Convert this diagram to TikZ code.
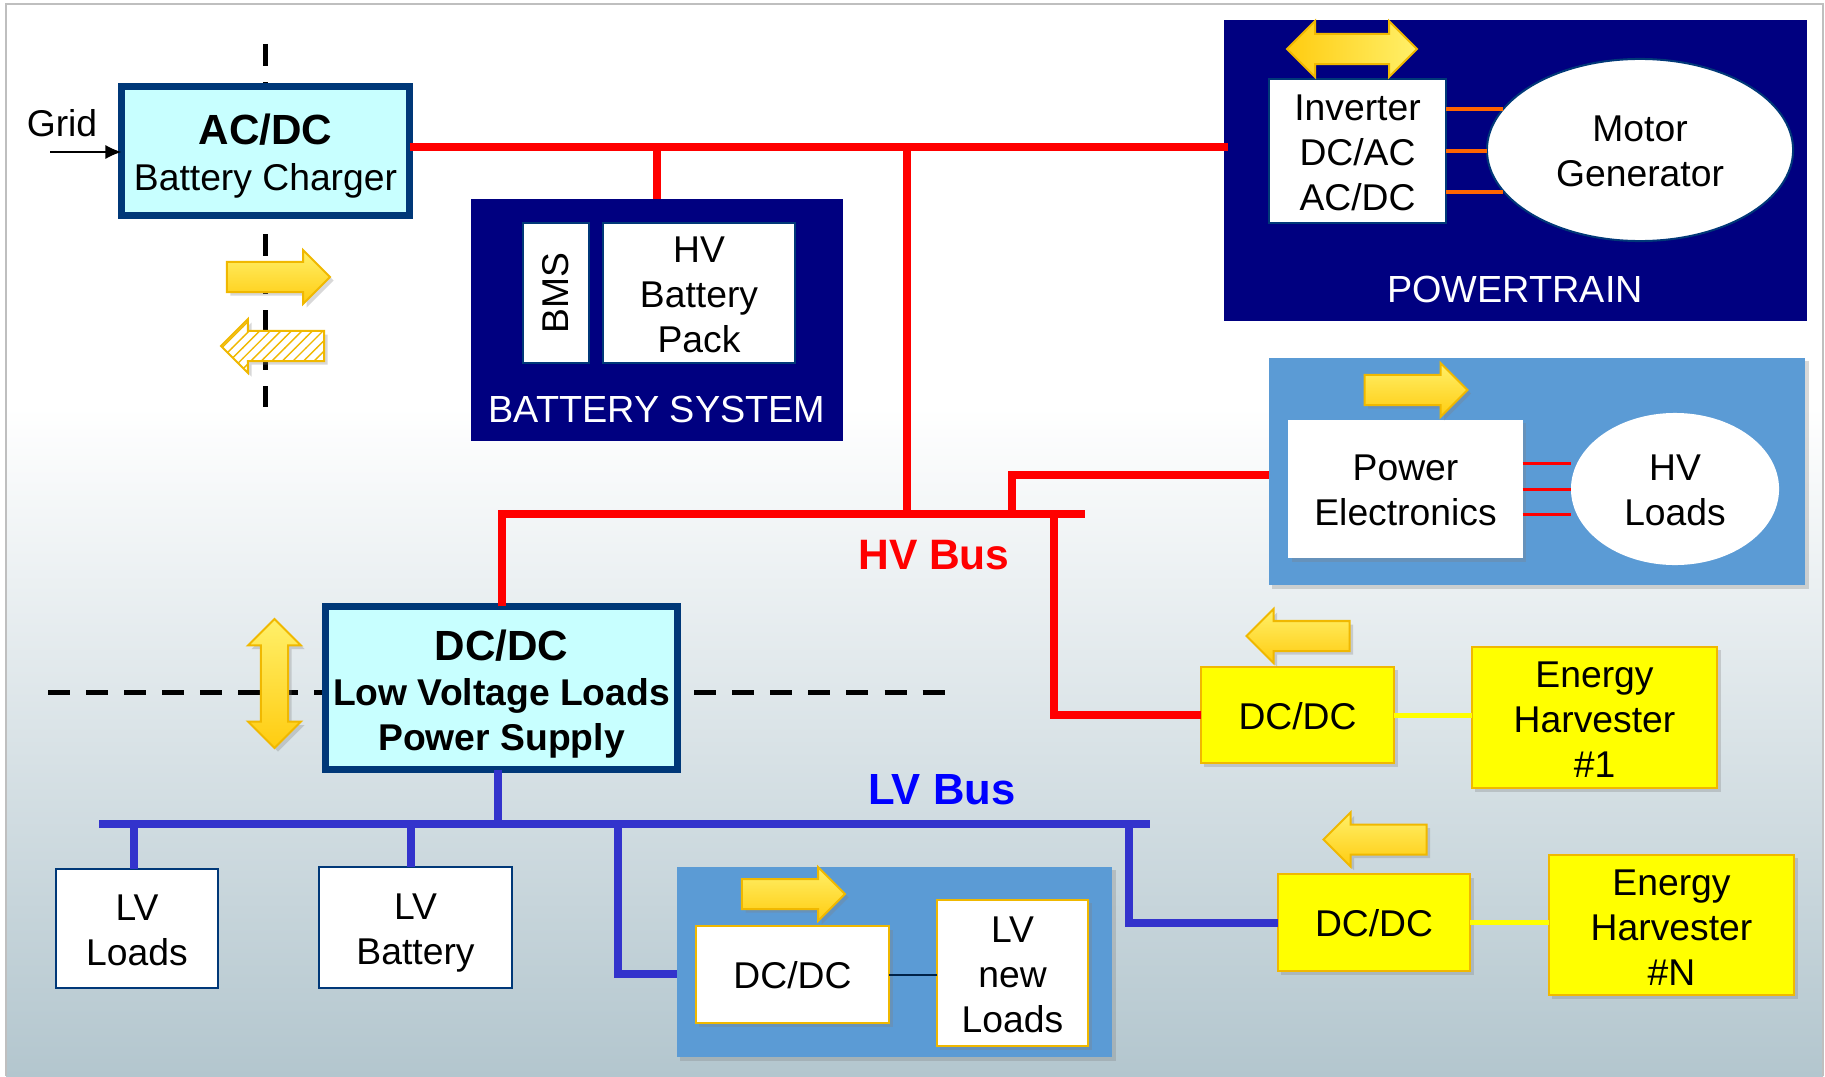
\documentclass[tikz,border=0pt]{standalone}
\usepackage{fontspec}
\setmainfont{Liberation Sans}
\usetikzlibrary{arrows.meta,shapes.geometric,shapes.arrows,shadows,patterns}
\definecolor{navybg}{RGB}{0,0,128}
\definecolor{panelblue}{RGB}{91,155,213}
\definecolor{cyanbox}{RGB}{200,255,255}
\definecolor{boxborder}{RGB}{0,56,120}
\definecolor{goldline}{RGB}{240,184,0}
\definecolor{goldlight}{RGB}{255,240,106}
\definecolor{golddark}{RGB}{255,204,16}
\definecolor{redbus}{RGB}{255,0,0}
\definecolor{bluebus}{RGB}{51,51,204}
\definecolor{orangeline}{RGB}{255,102,0}
\definecolor{bggray}{RGB}{179,198,206}
\definecolor{harvyellow}{RGB}{255,255,0}
\tikzset{
    softshadow/.style={drop shadow={shadow xshift=1pt,shadow yshift=-1pt,opacity=.3}},
    txt/.style={font=\fontsize{10.6}{12.8}\selectfont,align=center,inner sep=0pt,outer sep=0pt},
    capslabel/.style={txt,text=white,font=\fontsize{10.75}{12.8}\selectfont},
    panel/.style={txt,rectangle,fill=#1},
    whitebox/.style={txt,draw=boxborder,line width=0.02cm,fill=white},
    goldbox/.style={txt,draw=goldline,line width=0.02cm,fill=white,softshadow},
    yellowbox/.style={txt,draw=goldline,line width=0.02cm,fill=harvyellow,softshadow},
    cyanblock/.style={txt,draw=boxborder,line width=0.07cm,fill=cyanbox},
    hvline/.style={redbus,line width=0.08cm},
    lvline/.style={bluebus,line width=0.08cm},
    dashline/.style={black,line width=0.05cm,dash pattern=on 0.22cm off 0.16cm},
    flowarrow/.style={single arrow,draw=goldline,line width=0.02cm,inner sep=0.14cm,outer sep=0pt,minimum height=1.03cm,single arrow head extend=0.12cm,softshadow},
    twoway/.style={double arrow,draw=goldline,line width=0.02cm,inner sep=0.14cm,outer sep=0pt,double arrow head extend=0.13cm},
    goldfill/.style={top color=goldlight,bottom color=golddark},
}
\newcommand{\tbold}{\fontsize{12}{12.8}\selectfont\bfseries}
\newcommand{\lbold}{\fontsize{10.6}{12.8}\selectfont\bfseries}
\newcommand{\tl}[1][0.29]{\rule{0pt}{#1cm}}
\begin{document}
\begin{tikzpicture}[x=0.01cm,y=-0.01cm]
    \useasboundingbox (0,0) rectangle (1825,1076);
    % background
    \fill[white] (0,0) rectangle (1825,1076);
    \fill[top color=white,bottom color=bggray] (6,407) rectangle (1823,1076);
    \draw[gray!50,line width=0.015cm] (6,1076) -- (6,4) -- (1823,4) -- (1823,1076);

    % dashed borders
    \coordinate (vtop) at (265,44);
    \coordinate (vbot) at (265,407);
    \coordinate (hleft) at (48,692);
    \coordinate (hright) at (946,692);
    \draw[dashline] (vtop) -- (vbot);
    \draw[dashline] (hleft) -- (hright);

    % charger
    \node[cyanblock,minimum width=2.88cm,minimum height=1.29cm] (charger) at (265.5,151) {\tl[0.41]{\tbold AC/DC}\\[0.015cm]Battery Charger};
    \node[txt] (gridlabel) at (62,123) {Grid};
    \coordinate (gridin) at (50,152);
    \draw[-{Latex[length=0.16cm,width=0.14cm]},black,line width=0.012cm] (gridin) -- (charger.west |- gridin);
    \node[flowarrow,goldfill] (chargein) at (271,277) {};
    \node[flowarrow,shape border rotate=180,pattern color=goldline,pattern=north east lines,preaction={fill=white}] (chargeout) at (280,346) {};

    % battery system
    \node[panel=navybg,minimum width=3.72cm,minimum height=2.42cm] (batsys) at (657,320) {};
    \node[capslabel] (batlabel) at (657,409) {BATTERY SYSTEM};
    \node[whitebox,minimum width=0.66cm,minimum height=1.40cm] (bms) at (556,293) {\rotatebox{90}{BMS}};
    \node[whitebox,minimum width=1.92cm,minimum height=1.40cm] (pack) at (699,293) {\tl HV\\Battery\\Pack};

    % powertrain
    \node[panel=navybg,minimum width=5.83cm,minimum height=3.01cm] (ptrain) at (1515.5,170.5) {};
    \node[capslabel] (ptlabel) at (1515,289) {POWERTRAIN};
    \node[whitebox,minimum width=1.77cm,minimum height=1.44cm] (inverter) at (1357.5,151) {\tl Inverter\\DC/AC\\AC/DC};
    \node[ellipse,txt,draw=boxborder,line width=0.02cm,fill=white,minimum width=3.06cm,minimum height=1.82cm] (motor) at (1640,150) {\tl Motor\\Generator};
    \node[twoway,minimum height=1.30cm,left color=golddark,right color=goldlight] (ptarrow) at (1352,49) {};
    \foreach \yy/\nm/\xe in {109/a/1503,151/b/1487,192/c/1503}{
        \coordinate (ph\nm) at (\xe,\yy);
        \draw[orangeline,line width=0.035cm] (inverter.east |- ph\nm) -- (ph\nm);
    }

    % hv loads
    \node[panel=panelblue,minimum width=5.36cm,minimum height=2.27cm,softshadow] (hvpanel) at (1537,471.5) {};
    \node[txt,fill=white,minimum width=2.34cm,minimum height=1.38cm,softshadow] (powerel) at (1405.5,489) {\tl Power\\Electronics};
    \node[ellipse,txt,fill=white,minimum width=2.08cm,minimum height=1.52cm] (hvloads) at (1675,489) {\tl HV\\Loads};
    \node[flowarrow,goldfill] (hvarrow) at (1408.5,390) {};
    \foreach \yy/\nm in {463/a,489/b,514/c}{
        \coordinate (hp\nm) at (1571,\yy);
        \draw[redbus,line width=0.03cm] (powerel.east |- hp\nm) -- (hp\nm);
    }

    % harvesters
    \node[yellowbox,minimum width=1.93cm,minimum height=0.96cm] (dcdca) at (1297.5,715) {\tl DC/DC};
    \node[yellowbox,minimum width=2.45cm,minimum height=1.41cm] (harva) at (1594.5,717.5) {\tl Energy\\Harvester\\\#1};
    \node[flowarrow,shape border rotate=180,goldfill] (arrowa) at (1305.5,636) {};
    \node[yellowbox,minimum width=1.92cm,minimum height=0.97cm] (dcdcb) at (1374,922.5) {\tl DC/DC};
    \node[yellowbox,minimum width=2.45cm,minimum height=1.40cm] (harvb) at (1671.5,925) {\tl[0.31]Energy\\Harvester\\\#N};
    \node[flowarrow,shape border rotate=180,goldfill] (arrowb) at (1382.5,839.5) {};
    \draw[harvyellow,line width=0.05cm] (dcdca.east) -- (harva.west |- dcdca.east);
    \draw[harvyellow,line width=0.05cm] (dcdcb.east) -- (harvb.west |- dcdcb.east);

    % low voltage supply
    \node[cyanblock,minimum width=3.52cm,minimum height=1.63cm] (lvsupply) at (501.5,688) {\tl[0.42]{\tbold DC/DC}\\{\lbold Low Voltage Loads}\\{\lbold Power Supply}};
    \node[twoway,inner sep=0.125cm,minimum height=1.29cm,shape border rotate=90,top color=goldlight,bottom color=golddark,softshadow] (lvarrow) at (274.5,683.5) {};

    % lv side
    \node[whitebox,minimum width=1.62cm,minimum height=1.18cm] (lvloads) at (137,928.5) {\tl LV\\Loads};
    \node[whitebox,minimum width=1.93cm,minimum height=1.20cm] (lvbat) at (415.5,927.5) {\tl[0.37]LV\\Battery};
    \node[panel=panelblue,minimum width=4.35cm,minimum height=1.90cm,softshadow] (lvpanel) at (894.5,962) {};
    \node[goldbox,minimum width=1.93cm,minimum height=0.97cm] (dcdcc) at (792.5,974.5) {\tl DC/DC};
    \node[goldbox,minimum width=1.51cm,minimum height=1.46cm] (newloads) at (1012.5,973) {\tl LV\\new\\Loads};
    \node[flowarrow,goldfill] (lvpanelarrow) at (786,894) {};
    \draw[boxborder!60!black,line width=0.02cm] (dcdcc.east) -- (newloads.west |- dcdcc.east);

    % hv bus
    \coordinate (hvtop) at (907,147);
    \coordinate (hvend) at (1228,147);
    \coordinate (hvbus) at (907,514);
    \coordinate (hvstop) at (1085,514);
    \coordinate (hvleft) at (502,514);
    \coordinate (hvpe) at (1012,475);
    \coordinate (hvdn) at (1054,514);
    \draw[hvline] (charger.east |- hvtop) -- (hvend);
    \draw[hvline] (batsys.north |- hvtop) -- (batsys.north);
    \draw[hvline] (hvtop) -- (hvbus);
    \draw[hvline] (hvleft |- lvsupply.north) -- (hvleft) -- (hvstop);
    \draw[hvline] (hvpe |- hvbus) -- (hvpe) -- (hvpanel.west |- hvpe);
    \draw[hvline] (hvdn) -- (hvdn |- dcdca.west) -- (dcdca.west);
    \node[txt,text=redbus,font=\fontsize{12.1}{14}\selectfont\bfseries] (hvname) at (934,555) {HV Bus};

    % lv bus
    \coordinate (lvstart) at (99,824);
    \coordinate (lvend) at (1150,824);
    \coordinate (lvtap) at (498,824);
    \coordinate (lva) at (134,824);
    \coordinate (lvb) at (411,824);
    \coordinate (lvc) at (618,824);
    \coordinate (lvd) at (1129,824);
    \coordinate (lvcin) at (618,974);
    \coordinate (lvdin) at (1129,923);
    \draw[lvline] (lvstart) -- (lvend);
    \draw[lvline] (lvtap |- lvsupply.south) -- (lvtap);
    \draw[lvline] (lva) -- (lva |- lvloads.north);
    \draw[lvline] (lvb) -- (lvb |- lvbat.north);
    \draw[lvline] (lvc) -- (lvcin) -- (lvpanel.west |- lvcin);
    \draw[lvline] (lvd) -- (lvdin) -- (dcdcb.west |- lvdin);
    \node[txt,text=blue,font=\fontsize{12.4}{14}\selectfont\bfseries] (lvname) at (942,790) {LV Bus};
\end{tikzpicture}
\end{document}
